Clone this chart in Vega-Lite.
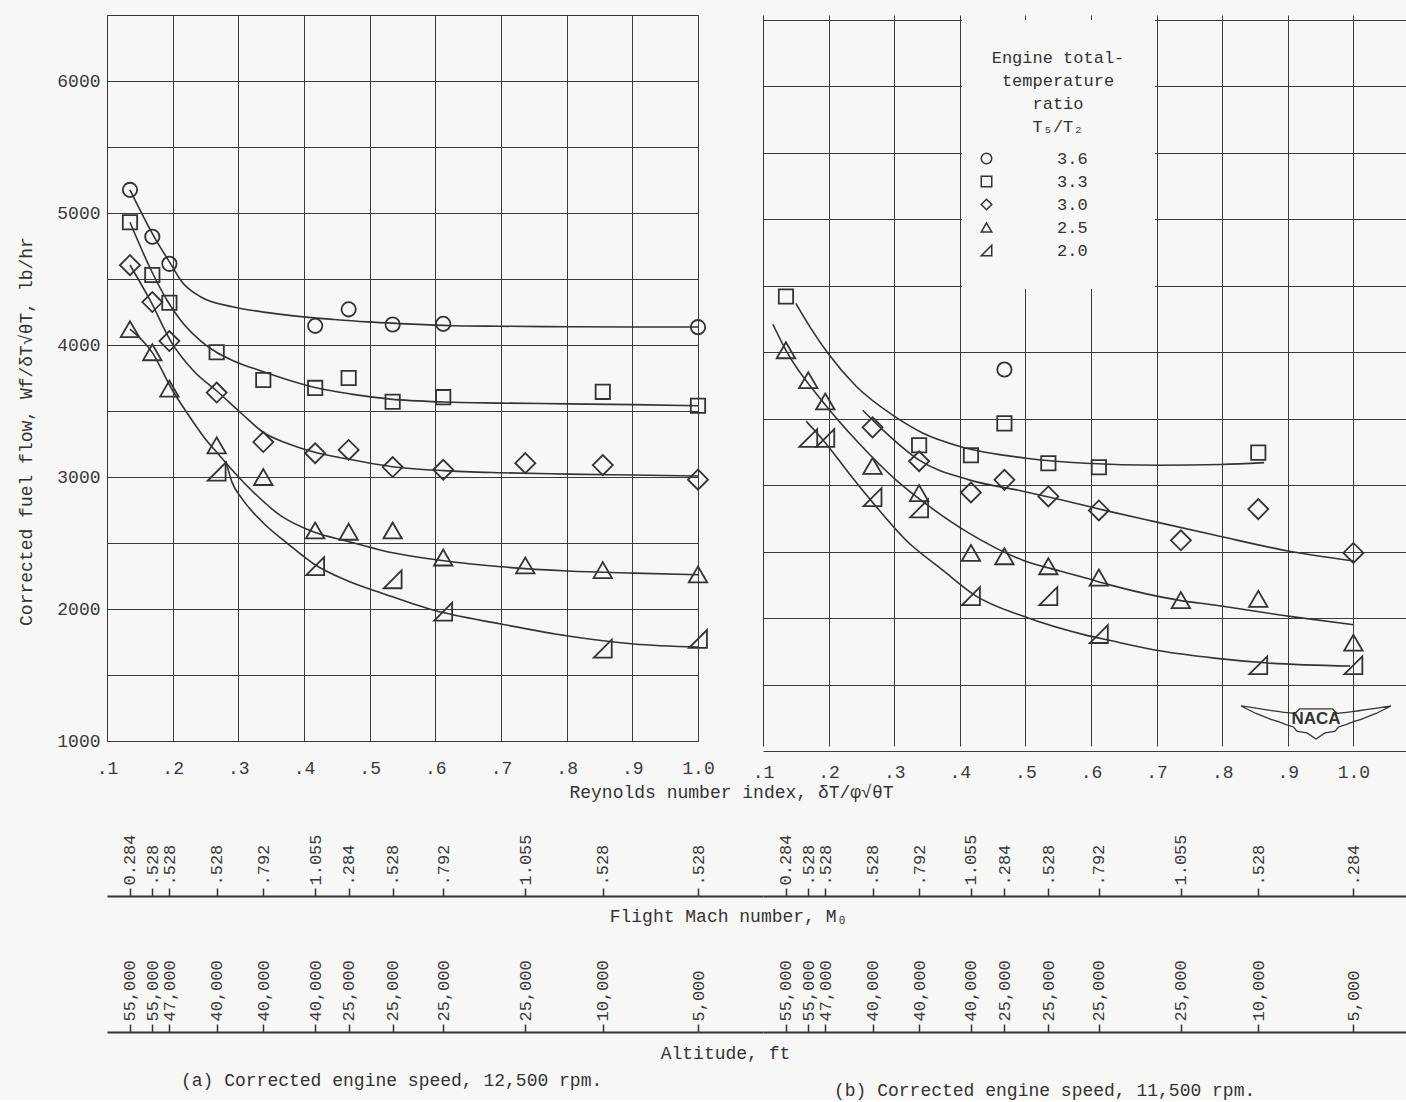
{
  "$schema": "https://vega.github.io/schema/vega-lite/v6.json",
  "background": "#f7f7f5",
  "padding": {"left": 16, "top": 12, "right": 0, "bottom": 0},
  "columns": 3,
  "spacing": 0,
  "bounds": "flush",
  "align": "each",
  "resolve": {"scale": {"shape": "independent"}},
  "config": {
    "font": "Liberation Mono",
    "view": {"stroke": "#333", "strokeWidth": 1},
    "axis": {
      "labelFont": "Liberation Mono", "labelFontSize": 18, "labelColor": "#3a3a3a",
      "titleFont": "Liberation Mono", "titleFontSize": 18, "titleFontWeight": "normal", "titleColor": "#333",
      "gridColor": "#3a3a3a", "gridOpacity": 1, "gridWidth": 1,
      "tickColor": "#333", "domainColor": "#333"
    },
    "title": {"font": "Liberation Mono", "fontSize": 18, "fontWeight": "normal", "color": "#333"}
  },
  "datasets": {
    "points": [
      {"panel": "a", "ratio": "3.6", "ri": 0.135, "flow": 5175},
      {"panel": "a", "ratio": "3.6", "ri": 0.169, "flow": 4820},
      {"panel": "a", "ratio": "3.6", "ri": 0.195, "flow": 4615},
      {"panel": "a", "ratio": "3.6", "ri": 0.417, "flow": 4145},
      {"panel": "a", "ratio": "3.6", "ri": 0.468, "flow": 4270},
      {"panel": "a", "ratio": "3.6", "ri": 0.535, "flow": 4155},
      {"panel": "a", "ratio": "3.6", "ri": 0.612, "flow": 4160},
      {"panel": "a", "ratio": "3.6", "ri": 1.0, "flow": 4135},
      {"panel": "a", "ratio": "3.3", "ri": 0.135, "flow": 4930},
      {"panel": "a", "ratio": "3.3", "ri": 0.169, "flow": 4530},
      {"panel": "a", "ratio": "3.3", "ri": 0.195, "flow": 4320},
      {"panel": "a", "ratio": "3.3", "ri": 0.267, "flow": 3945},
      {"panel": "a", "ratio": "3.3", "ri": 0.338, "flow": 3735},
      {"panel": "a", "ratio": "3.3", "ri": 0.417, "flow": 3675},
      {"panel": "a", "ratio": "3.3", "ri": 0.468, "flow": 3750},
      {"panel": "a", "ratio": "3.3", "ri": 0.535, "flow": 3570},
      {"panel": "a", "ratio": "3.3", "ri": 0.612, "flow": 3605},
      {"panel": "a", "ratio": "3.3", "ri": 0.855, "flow": 3645},
      {"panel": "a", "ratio": "3.3", "ri": 1.0, "flow": 3540},
      {"panel": "a", "ratio": "3.0", "ri": 0.135, "flow": 4605},
      {"panel": "a", "ratio": "3.0", "ri": 0.169, "flow": 4325},
      {"panel": "a", "ratio": "3.0", "ri": 0.195, "flow": 4030},
      {"panel": "a", "ratio": "3.0", "ri": 0.267, "flow": 3640},
      {"panel": "a", "ratio": "3.0", "ri": 0.338, "flow": 3265},
      {"panel": "a", "ratio": "3.0", "ri": 0.417, "flow": 3180},
      {"panel": "a", "ratio": "3.0", "ri": 0.468, "flow": 3205},
      {"panel": "a", "ratio": "3.0", "ri": 0.535, "flow": 3075},
      {"panel": "a", "ratio": "3.0", "ri": 0.612, "flow": 3055},
      {"panel": "a", "ratio": "3.0", "ri": 0.737, "flow": 3105},
      {"panel": "a", "ratio": "3.0", "ri": 0.855, "flow": 3090},
      {"panel": "a", "ratio": "3.0", "ri": 1.0, "flow": 2980},
      {"panel": "a", "ratio": "2.5", "ri": 0.135, "flow": 4120},
      {"panel": "a", "ratio": "2.5", "ri": 0.169, "flow": 3945},
      {"panel": "a", "ratio": "2.5", "ri": 0.195, "flow": 3670},
      {"panel": "a", "ratio": "2.5", "ri": 0.267, "flow": 3240},
      {"panel": "a", "ratio": "2.5", "ri": 0.338, "flow": 3000},
      {"panel": "a", "ratio": "2.5", "ri": 0.417, "flow": 2595},
      {"panel": "a", "ratio": "2.5", "ri": 0.468, "flow": 2585},
      {"panel": "a", "ratio": "2.5", "ri": 0.535, "flow": 2595},
      {"panel": "a", "ratio": "2.5", "ri": 0.612, "flow": 2390},
      {"panel": "a", "ratio": "2.5", "ri": 0.737, "flow": 2330},
      {"panel": "a", "ratio": "2.5", "ri": 0.855, "flow": 2295},
      {"panel": "a", "ratio": "2.5", "ri": 1.0, "flow": 2262},
      {"panel": "a", "ratio": "2.0", "ri": 0.267, "flow": 3040},
      {"panel": "a", "ratio": "2.0", "ri": 0.417, "flow": 2325},
      {"panel": "a", "ratio": "2.0", "ri": 0.535, "flow": 2225},
      {"panel": "a", "ratio": "2.0", "ri": 0.612, "flow": 1980},
      {"panel": "a", "ratio": "2.0", "ri": 0.855, "flow": 1700},
      {"panel": "a", "ratio": "2.0", "ri": 1.0, "flow": 1773},
      {"panel": "b", "ratio": "3.6", "ri": 0.468, "flow": 3870},
      {"panel": "b", "ratio": "3.3", "ri": 0.135, "flow": 4420},
      {"panel": "b", "ratio": "3.3", "ri": 0.338, "flow": 3300},
      {"panel": "b", "ratio": "3.3", "ri": 0.417, "flow": 3225},
      {"panel": "b", "ratio": "3.3", "ri": 0.468, "flow": 3465},
      {"panel": "b", "ratio": "3.3", "ri": 0.535, "flow": 3165},
      {"panel": "b", "ratio": "3.3", "ri": 0.612, "flow": 3135},
      {"panel": "b", "ratio": "3.3", "ri": 0.855, "flow": 3245},
      {"panel": "b", "ratio": "3.0", "ri": 0.267, "flow": 3435},
      {"panel": "b", "ratio": "3.0", "ri": 0.338, "flow": 3180},
      {"panel": "b", "ratio": "3.0", "ri": 0.417, "flow": 2945},
      {"panel": "b", "ratio": "3.0", "ri": 0.468, "flow": 3040},
      {"panel": "b", "ratio": "3.0", "ri": 0.535, "flow": 2915},
      {"panel": "b", "ratio": "3.0", "ri": 0.612, "flow": 2810},
      {"panel": "b", "ratio": "3.0", "ri": 0.737, "flow": 2585},
      {"panel": "b", "ratio": "3.0", "ri": 0.855, "flow": 2820},
      {"panel": "b", "ratio": "3.0", "ri": 1.0, "flow": 2490},
      {"panel": "b", "ratio": "2.5", "ri": 0.135, "flow": 4015},
      {"panel": "b", "ratio": "2.5", "ri": 0.169, "flow": 3790},
      {"panel": "b", "ratio": "2.5", "ri": 0.195, "flow": 3630},
      {"panel": "b", "ratio": "2.5", "ri": 0.267, "flow": 3145},
      {"panel": "b", "ratio": "2.5", "ri": 0.338, "flow": 2940},
      {"panel": "b", "ratio": "2.5", "ri": 0.417, "flow": 2490},
      {"panel": "b", "ratio": "2.5", "ri": 0.468, "flow": 2465},
      {"panel": "b", "ratio": "2.5", "ri": 0.535, "flow": 2390},
      {"panel": "b", "ratio": "2.5", "ri": 0.612, "flow": 2305},
      {"panel": "b", "ratio": "2.5", "ri": 0.737, "flow": 2135},
      {"panel": "b", "ratio": "2.5", "ri": 0.855, "flow": 2145},
      {"panel": "b", "ratio": "2.5", "ri": 1.0, "flow": 1815},
      {"panel": "b", "ratio": "2.0", "ri": 0.169, "flow": 3355},
      {"panel": "b", "ratio": "2.0", "ri": 0.195, "flow": 3355},
      {"panel": "b", "ratio": "2.0", "ri": 0.267, "flow": 2910},
      {"panel": "b", "ratio": "2.0", "ri": 0.338, "flow": 2825},
      {"panel": "b", "ratio": "2.0", "ri": 0.417, "flow": 2165},
      {"panel": "b", "ratio": "2.0", "ri": 0.535, "flow": 2165},
      {"panel": "b", "ratio": "2.0", "ri": 0.612, "flow": 1880},
      {"panel": "b", "ratio": "2.0", "ri": 0.855, "flow": 1645},
      {"panel": "b", "ratio": "2.0", "ri": 1.0, "flow": 1645}
    ],
    "curves": [
      {"panel": "a", "ratio": "3.6", "ri": 0.135, "flow": 5175},
      {"panel": "a", "ratio": "3.6", "ri": 0.172, "flow": 4818},
      {"panel": "a", "ratio": "3.6", "ri": 0.197, "flow": 4614},
      {"panel": "a", "ratio": "3.6", "ri": 0.213, "flow": 4485},
      {"panel": "a", "ratio": "3.6", "ri": 0.243, "flow": 4364},
      {"panel": "a", "ratio": "3.6", "ri": 0.293, "flow": 4288},
      {"panel": "a", "ratio": "3.6", "ri": 0.345, "flow": 4245},
      {"panel": "a", "ratio": "3.6", "ri": 0.395, "flow": 4215},
      {"panel": "a", "ratio": "3.6", "ri": 0.446, "flow": 4193},
      {"panel": "a", "ratio": "3.6", "ri": 0.497, "flow": 4175},
      {"panel": "a", "ratio": "3.6", "ri": 0.548, "flow": 4162},
      {"panel": "a", "ratio": "3.6", "ri": 0.624, "flow": 4146},
      {"panel": "a", "ratio": "3.6", "ri": 0.7, "flow": 4142},
      {"panel": "a", "ratio": "3.6", "ri": 0.802, "flow": 4138},
      {"panel": "a", "ratio": "3.6", "ri": 0.902, "flow": 4136},
      {"panel": "a", "ratio": "3.6", "ri": 1.0, "flow": 4136},
      {"panel": "a", "ratio": "3.3", "ri": 0.135, "flow": 4930},
      {"panel": "a", "ratio": "3.3", "ri": 0.17, "flow": 4538},
      {"panel": "a", "ratio": "3.3", "ri": 0.193, "flow": 4326},
      {"panel": "a", "ratio": "3.3", "ri": 0.213, "flow": 4182},
      {"panel": "a", "ratio": "3.3", "ri": 0.243, "flow": 4030},
      {"panel": "a", "ratio": "3.3", "ri": 0.266, "flow": 3947},
      {"panel": "a", "ratio": "3.3", "ri": 0.293, "flow": 3879},
      {"panel": "a", "ratio": "3.3", "ri": 0.335, "flow": 3803},
      {"panel": "a", "ratio": "3.3", "ri": 0.376, "flow": 3735},
      {"panel": "a", "ratio": "3.3", "ri": 0.415, "flow": 3680},
      {"panel": "a", "ratio": "3.3", "ri": 0.472, "flow": 3628},
      {"panel": "a", "ratio": "3.3", "ri": 0.532, "flow": 3590},
      {"panel": "a", "ratio": "3.3", "ri": 0.613, "flow": 3568},
      {"panel": "a", "ratio": "3.3", "ri": 0.7, "flow": 3560},
      {"panel": "a", "ratio": "3.3", "ri": 0.802, "flow": 3554},
      {"panel": "a", "ratio": "3.3", "ri": 0.902, "flow": 3548},
      {"panel": "a", "ratio": "3.3", "ri": 1.0, "flow": 3540},
      {"panel": "a", "ratio": "3.0", "ri": 0.135, "flow": 4606},
      {"panel": "a", "ratio": "3.0", "ri": 0.167, "flow": 4326},
      {"panel": "a", "ratio": "3.0", "ri": 0.197, "flow": 4030},
      {"panel": "a", "ratio": "3.0", "ri": 0.232, "flow": 3803},
      {"panel": "a", "ratio": "3.0", "ri": 0.269, "flow": 3644},
      {"panel": "a", "ratio": "3.0", "ri": 0.304, "flow": 3485},
      {"panel": "a", "ratio": "3.0", "ri": 0.339, "flow": 3335},
      {"panel": "a", "ratio": "3.0", "ri": 0.376, "flow": 3252},
      {"panel": "a", "ratio": "3.0", "ri": 0.415, "flow": 3189},
      {"panel": "a", "ratio": "3.0", "ri": 0.467, "flow": 3136},
      {"panel": "a", "ratio": "3.0", "ri": 0.532, "flow": 3080},
      {"panel": "a", "ratio": "3.0", "ri": 0.613, "flow": 3048},
      {"panel": "a", "ratio": "3.0", "ri": 0.7, "flow": 3032},
      {"panel": "a", "ratio": "3.0", "ri": 0.802, "flow": 3022},
      {"panel": "a", "ratio": "3.0", "ri": 0.902, "flow": 3015},
      {"panel": "a", "ratio": "3.0", "ri": 1.0, "flow": 3008},
      {"panel": "a", "ratio": "2.5", "ri": 0.135, "flow": 4120},
      {"panel": "a", "ratio": "2.5", "ri": 0.17, "flow": 3935},
      {"panel": "a", "ratio": "2.5", "ri": 0.197, "flow": 3680},
      {"panel": "a", "ratio": "2.5", "ri": 0.223, "flow": 3477},
      {"panel": "a", "ratio": "2.5", "ri": 0.248, "flow": 3300},
      {"panel": "a", "ratio": "2.5", "ri": 0.271, "flow": 3165},
      {"panel": "a", "ratio": "2.5", "ri": 0.293, "flow": 3040},
      {"panel": "a", "ratio": "2.5", "ri": 0.324, "flow": 2880},
      {"panel": "a", "ratio": "2.5", "ri": 0.365, "flow": 2705},
      {"panel": "a", "ratio": "2.5", "ri": 0.415, "flow": 2583},
      {"panel": "a", "ratio": "2.5", "ri": 0.467, "flow": 2512},
      {"panel": "a", "ratio": "2.5", "ri": 0.522, "flow": 2440},
      {"panel": "a", "ratio": "2.5", "ri": 0.613, "flow": 2365},
      {"panel": "a", "ratio": "2.5", "ri": 0.7, "flow": 2320},
      {"panel": "a", "ratio": "2.5", "ri": 0.802, "flow": 2288},
      {"panel": "a", "ratio": "2.5", "ri": 0.902, "flow": 2272},
      {"panel": "a", "ratio": "2.5", "ri": 1.0, "flow": 2260},
      {"panel": "a", "ratio": "2.0", "ri": 0.281, "flow": 3120},
      {"panel": "a", "ratio": "2.0", "ri": 0.29, "flow": 2965},
      {"panel": "a", "ratio": "2.0", "ri": 0.305, "flow": 2840},
      {"panel": "a", "ratio": "2.0", "ri": 0.335, "flow": 2667},
      {"panel": "a", "ratio": "2.0", "ri": 0.376, "flow": 2492},
      {"panel": "a", "ratio": "2.0", "ri": 0.415, "flow": 2341},
      {"panel": "a", "ratio": "2.0", "ri": 0.467, "flow": 2212},
      {"panel": "a", "ratio": "2.0", "ri": 0.522, "flow": 2114},
      {"panel": "a", "ratio": "2.0", "ri": 0.598, "flow": 1990},
      {"panel": "a", "ratio": "2.0", "ri": 0.7, "flow": 1886},
      {"panel": "a", "ratio": "2.0", "ri": 0.802, "flow": 1795},
      {"panel": "a", "ratio": "2.0", "ri": 0.902, "flow": 1735},
      {"panel": "a", "ratio": "2.0", "ri": 1.0, "flow": 1712},
      {"panel": "b", "ratio": "3.3", "ri": 0.15, "flow": 4368},
      {"panel": "b", "ratio": "3.3", "ri": 0.173, "flow": 4180},
      {"panel": "b", "ratio": "3.3", "ri": 0.199, "flow": 3992},
      {"panel": "b", "ratio": "3.3", "ri": 0.242, "flow": 3744},
      {"panel": "b", "ratio": "3.3", "ri": 0.3, "flow": 3519},
      {"panel": "b", "ratio": "3.3", "ri": 0.344, "flow": 3391},
      {"panel": "b", "ratio": "3.3", "ri": 0.399, "flow": 3293},
      {"panel": "b", "ratio": "3.3", "ri": 0.501, "flow": 3203},
      {"panel": "b", "ratio": "3.3", "ri": 0.592, "flow": 3165},
      {"panel": "b", "ratio": "3.3", "ri": 0.702, "flow": 3150},
      {"panel": "b", "ratio": "3.3", "ri": 0.798, "flow": 3156},
      {"panel": "b", "ratio": "3.3", "ri": 0.864, "flow": 3170},
      {"panel": "b", "ratio": "3.0", "ri": 0.252, "flow": 3564},
      {"panel": "b", "ratio": "3.0", "ri": 0.283, "flow": 3414},
      {"panel": "b", "ratio": "3.0", "ri": 0.338, "flow": 3188},
      {"panel": "b", "ratio": "3.0", "ri": 0.414, "flow": 3040},
      {"panel": "b", "ratio": "3.0", "ri": 0.496, "flow": 2955},
      {"panel": "b", "ratio": "3.0", "ri": 0.554, "flow": 2890},
      {"panel": "b", "ratio": "3.0", "ri": 0.626, "flow": 2805},
      {"panel": "b", "ratio": "3.0", "ri": 0.702, "flow": 2720},
      {"panel": "b", "ratio": "3.0", "ri": 0.788, "flow": 2625},
      {"panel": "b", "ratio": "3.0", "ri": 0.9, "flow": 2505},
      {"panel": "b", "ratio": "3.0", "ri": 1.0, "flow": 2430},
      {"panel": "b", "ratio": "2.5", "ri": 0.115, "flow": 4211},
      {"panel": "b", "ratio": "2.5", "ri": 0.135, "flow": 4015},
      {"panel": "b", "ratio": "2.5", "ri": 0.193, "flow": 3617},
      {"panel": "b", "ratio": "2.5", "ri": 0.242, "flow": 3338},
      {"panel": "b", "ratio": "2.5", "ri": 0.303, "flow": 3038},
      {"panel": "b", "ratio": "2.5", "ri": 0.353, "flow": 2842},
      {"panel": "b", "ratio": "2.5", "ri": 0.414, "flow": 2639},
      {"panel": "b", "ratio": "2.5", "ri": 0.496, "flow": 2436},
      {"panel": "b", "ratio": "2.5", "ri": 0.554, "flow": 2353},
      {"panel": "b", "ratio": "2.5", "ri": 0.592, "flow": 2301},
      {"panel": "b", "ratio": "2.5", "ri": 0.63, "flow": 2248},
      {"panel": "b", "ratio": "2.5", "ri": 0.733, "flow": 2135},
      {"panel": "b", "ratio": "2.5", "ri": 0.788, "flow": 2098},
      {"panel": "b", "ratio": "2.5", "ri": 0.9, "flow": 2015},
      {"panel": "b", "ratio": "2.5", "ri": 1.0, "flow": 1950},
      {"panel": "b", "ratio": "2.0", "ri": 0.166, "flow": 3480},
      {"panel": "b", "ratio": "2.0", "ri": 0.193, "flow": 3331},
      {"panel": "b", "ratio": "2.0", "ri": 0.231, "flow": 3090},
      {"panel": "b", "ratio": "2.0", "ri": 0.268, "flow": 2865},
      {"panel": "b", "ratio": "2.0", "ri": 0.318, "flow": 2586},
      {"panel": "b", "ratio": "2.0", "ri": 0.374, "flow": 2361},
      {"panel": "b", "ratio": "2.0", "ri": 0.425, "flow": 2165},
      {"panel": "b", "ratio": "2.0", "ri": 0.496, "flow": 2015},
      {"panel": "b", "ratio": "2.0", "ri": 0.592, "flow": 1872},
      {"panel": "b", "ratio": "2.0", "ri": 0.626, "flow": 1835},
      {"panel": "b", "ratio": "2.0", "ri": 0.707, "flow": 1752},
      {"panel": "b", "ratio": "2.0", "ri": 0.788, "flow": 1699},
      {"panel": "b", "ratio": "2.0", "ri": 0.87, "flow": 1662},
      {"panel": "b", "ratio": "2.0", "ri": 0.995, "flow": 1639}
    ]
  },
  "concat": [
    {
      "width": 591,
      "height": 726,
      "layer": [
        {
          "data": {"name": "curves"},
          "transform": [{"filter": "datum.panel === 'a'"}],
          "mark": {"type": "line", "interpolate": "monotone", "color": "#333", "strokeWidth": 1.6},
          "encoding": {
            "x": {
              "field": "ri", "type": "quantitative",
              "scale": {"domain": [0.1, 1.0], "nice": false, "zero": false},
              "axis": {
                "values": [0.1, 0.2, 0.3, 0.4, 0.5, 0.6, 0.7, 0.8, 0.9, 1.0],
                "labelExpr": "datum.value >= 0.99 ? '1.0' : replace(format(datum.value, '.1f'), '0.', '.')",
                "grid": true, "ticks": false, "domain": false,
                "labelPadding": 18, "labelFlush": false, "labelOverlap": false,
                "title": "Reynolds number index, δT/φ√θT",
                "titleX": 624, "titleY": 51, "titleAlign": "center", "titleBaseline": "middle"
              }
            },
            "y": {
              "field": "flow", "type": "quantitative",
              "scale": {"domain": [1000, 6500], "nice": false, "zero": false},
              "axis": {
                "values": [1000, 1500, 2000, 2500, 3000, 3500, 4000, 4500, 5000, 5500, 6000],
                "format": "d",
                "labelExpr": "datum.value % 1000 === 0 ? datum.label : ''",
                "grid": true, "ticks": false, "domain": false,
                "labelPadding": 7, "labelOverlap": false,
                "title": "Corrected fuel flow, Wf/δT√θT, lb/hr",
                "titleX": -81, "titleY": 416, "titleAngle": 270,
                "titleAlign": "center", "titleBaseline": "middle"
              }
            },
            "detail": {"field": "ratio"}
          }
        },
        {
          "data": {"name": "points"},
          "transform": [{"filter": "datum.panel === 'a'"}],
          "mark": {"type": "point", "filled": false, "opacity": 1, "color": "#333", "strokeWidth": 1.8},
          "encoding": {
            "x": {"field": "ri", "type": "quantitative", "title": "Reynolds number index, δT/φ√θT"},
            "y": {"field": "flow", "type": "quantitative", "title": "Corrected fuel flow, Wf/δT√θT, lb/hr"},
            "shape": {
              "field": "ratio", "type": "nominal",
              "scale": {"domain": ["3.6", "3.3", "3.0", "2.5", "2.0"], "range": ["circle", "square", "diamond", "triangle-up", "M1,-1L1,1L-1,1Z"]},
              "legend": null
            },
            "size": {
              "condition": [
                {"test": "datum.ratio === '3.0'", "value": 400},
                {"test": "datum.ratio === '2.5'", "value": 340},
                {"test": "datum.ratio === '2.0'", "value": 320}
              ],
              "value": 205
            }
          }
        }
      ]
    },
    {
      "width": 65, "height": 1, "view": {"stroke": null},
      "data": {"values": [{}]},
      "mark": {"type": "point", "opacity": 0}
    },
    {
      "width": 656,
      "height": 736,
      "view": {"stroke": null},
      "layer": [
        {
          "data": {"name": "curves"},
          "transform": [{"filter": "datum.panel === 'b'"}],
          "mark": {"type": "line", "interpolate": "monotone", "color": "#333", "strokeWidth": 1.6},
          "encoding": {
            "x": {
              "field": "ri", "type": "quantitative",
              "scale": {"domain": [0.1, 1.1], "nice": false, "zero": false},
              "axis": {
                "values": [0.1, 0.2, 0.3, 0.4, 0.5, 0.6, 0.7, 0.8, 0.9, 1.0],
                "labelExpr": "datum.value >= 0.99 ? '1.0' : replace(format(datum.value, '.1f'), '0.', '.')",
                "grid": true, "ticks": false, "domain": false,
                "labelPadding": 12, "labelFlush": false, "labelOverlap": false,
                "title": null
              }
            },
            "y": {
              "field": "flow", "type": "quantitative",
              "scale": {"domain": [1000, 6500], "range": [736, 5], "nice": false, "zero": false},
              "axis": {
                "values": [1000, 1500, 2000, 2500, 3000, 3500, 4000, 4500, 5000, 5500, 6000, 6500],
                "grid": true, "ticks": false, "domain": false, "labels": false,
                "title": null
              }
            },
            "detail": {"field": "ratio"}
          }
        },
        {
          "data": {"name": "points"},
          "transform": [{"filter": "datum.panel === 'b'"}],
          "mark": {"type": "point", "filled": false, "opacity": 1, "color": "#333", "strokeWidth": 1.8},
          "encoding": {
            "x": {"field": "ri", "type": "quantitative", "title": null},
            "y": {"field": "flow", "type": "quantitative", "title": null},
            "shape": {
              "field": "ratio", "type": "nominal",
              "scale": {"domain": ["3.6", "3.3", "3.0", "2.5", "2.0"], "range": ["circle", "square", "diamond", "triangle-up", "M1,-1L1,1L-1,1Z"]},
              "legend": {
                "orient": "none", "legendX": 199, "legendY": 5,
                "title": ["Engine total-", "temperature", "ratio", "T₅/T₂"],
                "titleFont": "Liberation Mono", "titleFontSize": 17, "titleFontWeight": "normal", "titleColor": "#333",
                "titleAlign": "center", "titleAnchor": "middle", "titleLineHeight": 23, "titlePadding": 14,
                "labelFont": "Liberation Mono", "labelFontSize": 17, "labelColor": "#333", "labelOffset": 62,
                "symbolOffset": -50,
                "symbolSize": 110, "symbolStrokeWidth": 1.5, "symbolStrokeColor": "#333",
                "rowPadding": 5, "padding": 30, "fillColor": "#f7f7f5"
              }
            },
            "size": {
              "condition": [
                {"test": "datum.ratio === '3.0'", "value": 400},
                {"test": "datum.ratio === '2.5'", "value": 340},
                {"test": "datum.ratio === '2.0'", "value": 320}
              ],
              "value": 205
            }
          }
        },
        {
          "data": {"values": [{}]},
          "mark": {
            "type": "point", "filled": false, "opacity": 1, "color": "#333", "strokeWidth": 1.3, "size": 22500,
            "shape": "M-1,-0.2Q-0.5,-0.12,-0.28,-0.1L-0.22,-0.16L0.22,-0.16L0.28,-0.1Q0.5,-0.12,1,-0.2L0.8,-0.1L0.7,-0.06L0.6,-0.02L0.5,0.01L0.4,0.05L0.3,0.08L0.25,0.14L0.12,0.16L0,0.24L-0.12,0.16L-0.25,0.14L-0.3,0.08L-0.4,0.05L-0.5,0.01L-0.6,-0.02L-0.7,-0.06L-0.8,-0.1Z"
          },
          "encoding": {
            "x": {"datum": 0.943, "type": "quantitative"},
            "y": {"datum": 1226, "type": "quantitative"}
          }
        },
        {
          "data": {"values": [{}]},
          "mark": {"type": "text", "text": "NACA", "font": "Liberation Sans", "fontWeight": "bold", "fontSize": 17, "color": "#333", "baseline": "middle", "align": "center"},
          "encoding": {
            "x": {"datum": 0.943, "type": "quantitative"},
            "y": {"datum": 1240, "type": "quantitative"}
          }
        }
      ]
    },
    {
      "width": 591, "height": 145, "view": {"stroke": null},
      "data": {"values": [{}]},
      "mark": {"type": "point", "opacity": 0},
      "encoding": {
        "x": {
          "datum": 0.5, "type": "quantitative",
          "scale": {"domain": [0.1, 1.0], "nice": false, "zero": false},
          "axis": {
            "orient": "top", "offset": -145,
            "values": [0.135, 0.169, 0.195, 0.267, 0.338, 0.417, 0.468, 0.535, 0.612, 0.737, 0.855, 1],
            "labelExpr": "['0.284','.528','.528','.528','.792','1.055','.284','.528','.792','1.055','.528','.528'][indexof([0.135,0.169,0.195,0.267,0.338,0.417,0.468,0.535,0.612,0.737,0.855,1], datum.value)]",
            "labelAngle": 270, "labelAlign": "left", "labelBaseline": "middle", "labelPadding": 3,
            "labelFontSize": 17, "labelOverlap": false, "labelFlush": false, "labelBound": false,
            "ticks": true, "tickSize": 8, "tickWidth": 1.5, "domainWidth": 2, "grid": false,
            "title": "Flight Mach number, M₀",
            "titleX": 621, "titleY": 20, "titleAngle": 0, "titleAlign": "center", "titleBaseline": "middle"
          }
        }
      }
    },
    {
      "width": 65, "height": 145, "view": {"stroke": null},
      "data": {"values": [{}]},
      "mark": {"type": "point", "opacity": 0},
      "encoding": {
        "x": {
          "datum": 0.5, "type": "quantitative",
          "scale": {"domain": [0, 1], "nice": false, "zero": false},
          "axis": {"orient": "top", "offset": -145, "ticks": false, "labels": false, "grid": false, "domainWidth": 2, "title": null}
        }
      }
    },
    {
      "width": 656, "height": 145, "view": {"stroke": null},
      "data": {"values": [{}]},
      "mark": {"type": "point", "opacity": 0},
      "encoding": {
        "x": {
          "datum": 0.5, "type": "quantitative",
          "scale": {"domain": [0.1, 1.1], "nice": false, "zero": false},
          "axis": {
            "orient": "top", "offset": -145,
            "values": [0.135, 0.169, 0.195, 0.267, 0.338, 0.417, 0.468, 0.535, 0.612, 0.737, 0.855, 1],
            "labelExpr": "['0.284','.528','.528','.528','.792','1.055','.284','.528','.792','1.055','.528','.284'][indexof([0.135,0.169,0.195,0.267,0.338,0.417,0.468,0.535,0.612,0.737,0.855,1], datum.value)]",
            "labelAngle": 270, "labelAlign": "left", "labelBaseline": "middle", "labelPadding": 3,
            "labelFontSize": 17, "labelOverlap": false, "labelFlush": false, "labelBound": false,
            "ticks": true, "tickSize": 8, "tickWidth": 1.5, "domainWidth": 2, "grid": false,
            "title": null
          }
        }
      }
    },
    {
      "width": 591, "height": 136, "view": {"stroke": null},
      "data": {"values": [{}]},
      "mark": {"type": "point", "opacity": 0},
      "encoding": {
        "x": {
          "datum": 0.5, "type": "quantitative",
          "scale": {"domain": [0.1, 1.0], "nice": false, "zero": false},
          "axis": {
            "orient": "top", "offset": -136,
            "values": [0.135, 0.169, 0.195, 0.267, 0.338, 0.417, 0.468, 0.535, 0.612, 0.737, 0.855, 1],
            "labelExpr": "['55,000','55,000','47,000','40,000','40,000','40,000','25,000','25,000','25,000','25,000','10,000','5,000'][indexof([0.135,0.169,0.195,0.267,0.338,0.417,0.468,0.535,0.612,0.737,0.855,1], datum.value)]",
            "labelAngle": 270, "labelAlign": "left", "labelBaseline": "middle", "labelPadding": 3,
            "labelFontSize": 17, "labelOverlap": false, "labelFlush": false, "labelBound": false,
            "ticks": true, "tickSize": 8, "tickWidth": 1.5, "domainWidth": 2, "grid": false,
            "title": "Altitude, ft",
            "titleX": 618, "titleY": 21, "titleAngle": 0, "titleAlign": "center", "titleBaseline": "middle"
          }
        }
      }
    },
    {
      "width": 65, "height": 136, "view": {"stroke": null},
      "data": {"values": [{}]},
      "mark": {"type": "point", "opacity": 0},
      "encoding": {
        "x": {
          "datum": 0.5, "type": "quantitative",
          "scale": {"domain": [0, 1], "nice": false, "zero": false},
          "axis": {"orient": "top", "offset": -136, "ticks": false, "labels": false, "grid": false, "domainWidth": 2, "title": null}
        }
      }
    },
    {
      "width": 656, "height": 136, "view": {"stroke": null},
      "data": {"values": [{}]},
      "mark": {"type": "point", "opacity": 0},
      "encoding": {
        "x": {
          "datum": 0.5, "type": "quantitative",
          "scale": {"domain": [0.1, 1.1], "nice": false, "zero": false},
          "axis": {
            "orient": "top", "offset": -136,
            "values": [0.135, 0.169, 0.195, 0.267, 0.338, 0.417, 0.468, 0.535, 0.612, 0.737, 0.855, 1],
            "labelExpr": "['55,000','55,000','47,000','40,000','40,000','40,000','25,000','25,000','25,000','25,000','10,000','5,000'][indexof([0.135,0.169,0.195,0.267,0.338,0.417,0.468,0.535,0.612,0.737,0.855,1], datum.value)]",
            "labelAngle": 270, "labelAlign": "left", "labelBaseline": "middle", "labelPadding": 3,
            "labelFontSize": 17, "labelOverlap": false, "labelFlush": false, "labelBound": false,
            "ticks": true, "tickSize": 8, "tickWidth": 1.5, "domainWidth": 2, "grid": false,
            "title": null
          }
        }
      }
    },
    {
      "width": 591, "height": 40, "view": {"stroke": null},
      "data": {"values": [{}]},
      "mark": {"type": "point", "opacity": 0},
      "title": {"text": "(a) Corrected engine speed, 12,500 rpm.", "orient": "bottom", "frame": "group", "anchor": "start", "dx": 74, "offset": 0, "baseline": "top"}
    },
    {
      "width": 65, "height": 40, "view": {"stroke": null},
      "data": {"values": [{}]},
      "mark": {"type": "point", "opacity": 0}
    },
    {
      "width": 656, "height": 40, "view": {"stroke": null},
      "data": {"values": [{}]},
      "mark": {"type": "point", "opacity": 0},
      "title": {"text": "(b) Corrected engine speed, 11,500 rpm.", "orient": "bottom", "frame": "group", "anchor": "start", "dx": 71, "offset": 10, "baseline": "top"}
    }
  ]
}
